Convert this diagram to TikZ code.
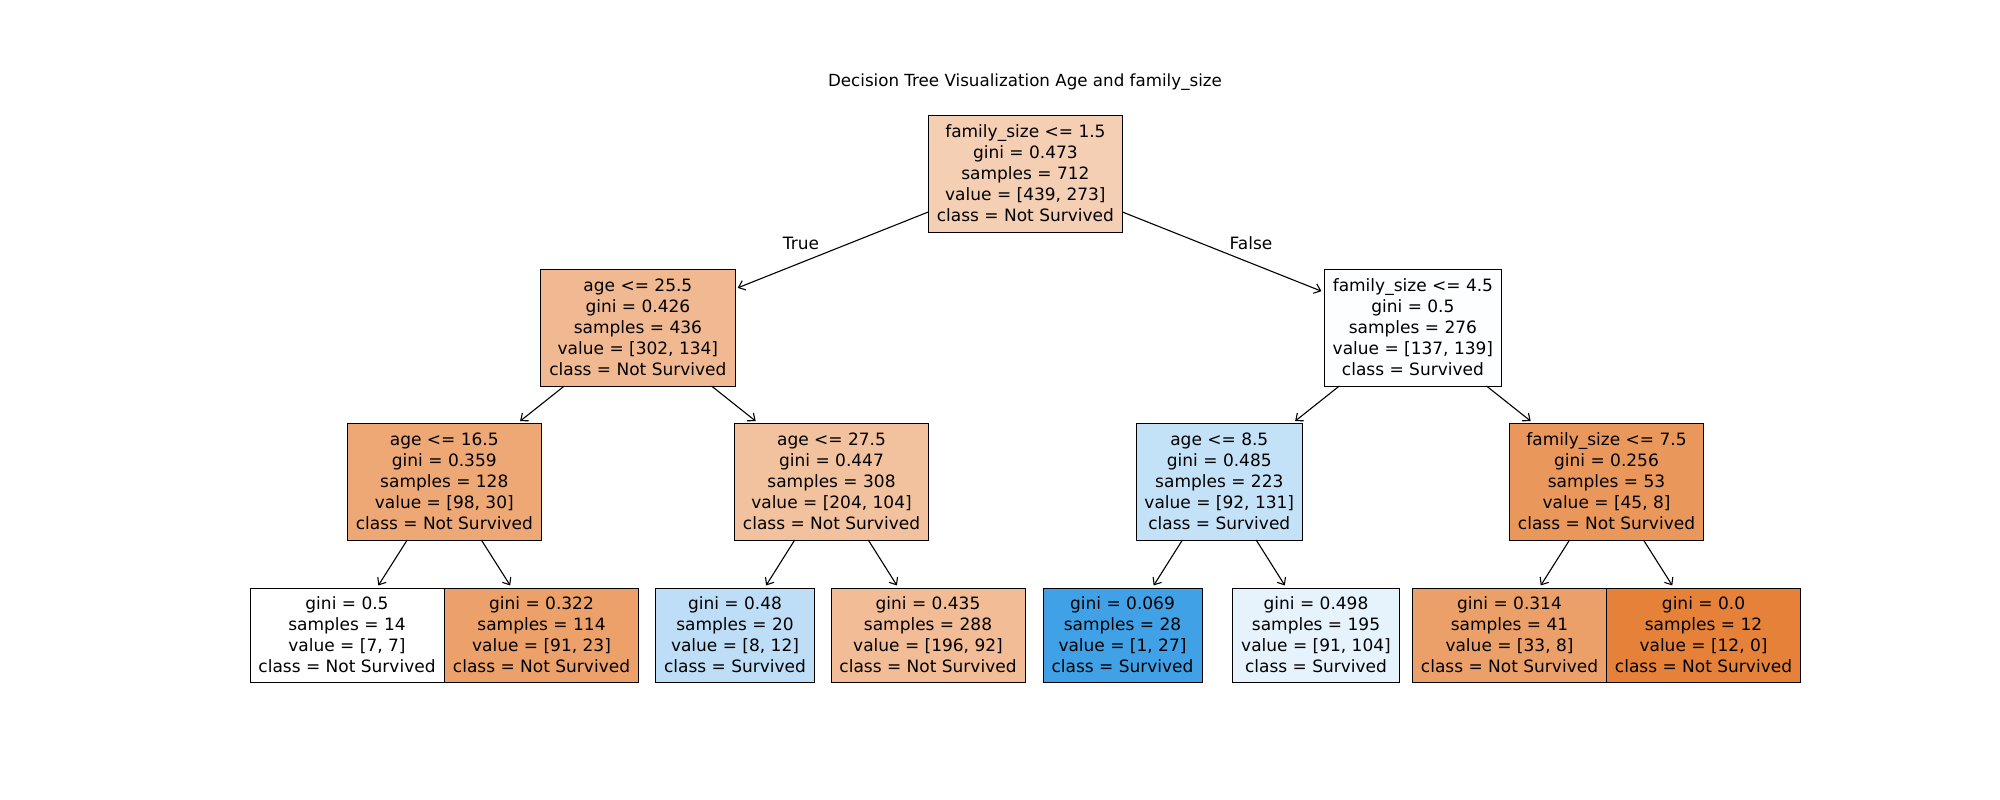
\documentclass[tikz,border=0pt]{standalone}
\usepackage{fontspec}
\setmainfont{DejaVu Sans}
\usetikzlibrary{arrows.meta}

% node fill colours (class colour blended with white by purity)
\definecolor{cA}{RGB}{245,207,180}
\definecolor{cB}{RGB}{241,185,145}
\definecolor{cC}{RGB}{252,254,255}
\definecolor{cD}{RGB}{237,168,118}
\definecolor{cE}{RGB}{242,193,158}
\definecolor{cF}{RGB}{196,226,247}
\definecolor{cG}{RGB}{234,151,92}
\definecolor{cH}{RGB}{255,255,255}
\definecolor{cI}{RGB}{236,161,107}
\definecolor{cJ}{RGB}{189,222,246}
\definecolor{cK}{RGB}{241,188,150}
\definecolor{cL}{RGB}{64,161,230}
\definecolor{cM}{RGB}{230,243,252}
\definecolor{cN}{RGB}{235,160,105}
\definecolor{cO}{RGB}{229,129,57}

\tikzset{
  treenode/.style={draw=black, line width=0.9pt, rectangle, align=center,
    inner xsep=8.5pt, inner ysep=0pt, outer sep=0pt,
    font=\fontsize{17}{21}\selectfont},
  splitnode/.style={treenode, minimum height=117pt},
  leafnode/.style={treenode, minimum height=94pt},
  link/.style={line width=1.1pt, shorten >=3pt,
    -{Straight Barb[length=6pt,width=10pt,line width=1.1pt]}},
  edgelabel/.style={font=\fontsize{17}{21}\selectfont, inner sep=0pt}
}

\begin{document}
\begin{tikzpicture}[x=1pt, y=-1pt]
\useasboundingbox (0,0) rectangle (2000,800);

\node[font=\fontsize{16.7}{20}\selectfont] (title) at (1025,82)
  {Decision Tree Visualization Age and family\_size};

% root
\node[splitnode, fill=cA] (n0) at (1025.4,173.5)
  {family\_size <= 1.5\\gini = 0.473\\samples = 712\\value = [439, 273]\\class = Not Survived};

% depth 1
\node[splitnode, fill=cB] (n1) at (637.9,327.5)
  {age <= 25.5\\gini = 0.426\\samples = 436\\value = [302, 134]\\class = Not Survived};
\node[splitnode, fill=cC] (n2) at (1412.9,327.5)
  {family\_size <= 4.5\\gini = 0.5\\samples = 276\\value = [137, 139]\\class = Survived};

% depth 2
\node[splitnode, fill=cD] (n3) at (444.3,481.5)
  {age <= 16.5\\gini = 0.359\\samples = 128\\value = [98, 30]\\class = Not Survived};
\node[splitnode, fill=cE] (n4) at (831.5,481.5)
  {age <= 27.5\\gini = 0.447\\samples = 308\\value = [204, 104]\\class = Not Survived};
\node[splitnode, fill=cF] (n5) at (1219.3,481.5)
  {age <= 8.5\\gini = 0.485\\samples = 223\\value = [92, 131]\\class = Survived};
\node[splitnode, fill=cG] (n6) at (1606.5,481.5)
  {family\_size <= 7.5\\gini = 0.256\\samples = 53\\value = [45, 8]\\class = Not Survived};

% leaves
\node[leafnode, fill=cH] (n7) at (347,635)
  {gini = 0.5\\samples = 14\\value = [7, 7]\\class = Not Survived};
\node[leafnode, fill=cI] (n8) at (541.5,635)
  {gini = 0.322\\samples = 114\\value = [91, 23]\\class = Not Survived};
\node[leafnode, fill=cJ] (n9) at (735,635)
  {gini = 0.48\\samples = 20\\value = [8, 12]\\class = Survived};
\node[leafnode, fill=cK] (n10) at (928,635)
  {gini = 0.435\\samples = 288\\value = [196, 92]\\class = Not Survived};
\node[leafnode, fill=cL] (n11) at (1122.5,635)
  {gini = 0.069\\samples = 28\\value = [1, 27]\\class = Survived};
\node[leafnode, fill=cM] (n12) at (1316,635)
  {gini = 0.498\\samples = 195\\value = [91, 104]\\class = Survived};
\node[leafnode, fill=cN] (n13) at (1509.5,635)
  {gini = 0.314\\samples = 41\\value = [33, 8]\\class = Not Survived};
\node[leafnode, fill=cO] (n14) at (1703.5,635)
  {gini = 0.0\\samples = 12\\value = [12, 0]\\class = Not Survived};

% connectors
\draw[link] (n0) -- (n1);
\draw[link] (n0) -- (n2);
\draw[link] (n1) -- (n3);
\draw[link] (n1) -- (n4);
\draw[link] (n2) -- (n5);
\draw[link] (n2) -- (n6);
\draw[link] (n3) -- (n7);
\draw[link] (n3) -- (n8);
\draw[link] (n4) -- (n9);
\draw[link] (n4) -- (n10);
\draw[link] (n5) -- (n11);
\draw[link] (n5) -- (n12);
\draw[link] (n6) -- (n13);
\draw[link] (n6) -- (n14);

% branch labels
\node[edgelabel] (ltrue) at (801,243.6) {True};
\node[edgelabel] (lfalse) at (1251,243.6) {False};
\end{tikzpicture}
\end{document}
